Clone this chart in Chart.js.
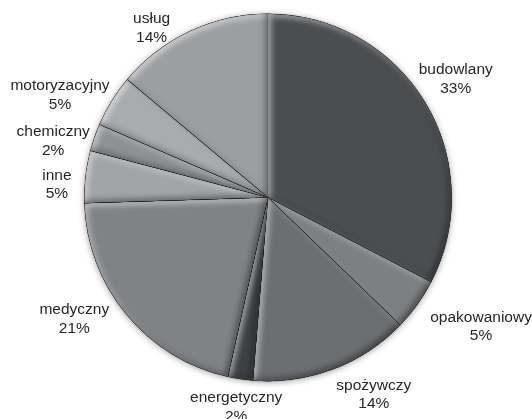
<!DOCTYPE html>
<html>
<head>
<meta charset="utf-8">
<script src="https://cdn.jsdelivr.net/npm/chart.js@4.4.1/dist/chart.umd.min.js"></script>
<style>
  html, body { margin: 0; padding: 0; background: #ffffff; }
  #wrap { width: 532px; height: 419px; position: relative; }
</style>
</head>
<body>
<div id="wrap"><canvas id="c" width="532" height="419"></canvas></div>
<script>
const categories = ['budowlany', 'opakowaniowy', 'spożywczy', 'energetyczny', 'medyczny', 'inne', 'chemiczny', 'motoryzacyjny', 'usług'];
const shares = [32.6, 4.6, 14.1, 2.2, 21.0, 4.6, 2.4, 4.6, 13.9];
const sliceColors = ['#4b4e51', '#7d8083', '#6c6f72', '#3e4144', '#808386', '#a2a5a8', '#8e9194', '#a9acaf', '#9c9fa2'];

const FONT = '15.5px "Liberation Sans", Arial, sans-serif';
const LINE_H = 18.5;

function arcPath(ctx, a) {
  ctx.beginPath();
  ctx.moveTo(a.x, a.y);
  ctx.arc(a.x, a.y, a.outerRadius, a.startAngle, a.endAngle);
  ctx.closePath();
}

const bevelPlugin = {
  id: 'bevel',
  beforeDatasetsDraw(chart) {
    const meta = chart.getDatasetMeta(0);
    if (!meta.data.length) return;
    const a = meta.data[0].getProps(['x', 'y', 'outerRadius'], true);
    const ctx = chart.ctx;
    ctx.save();
    ctx.shadowColor = 'rgba(0,0,0,0.45)';
    ctx.shadowBlur = 7;
    ctx.shadowOffsetX = 0;
    ctx.shadowOffsetY = 1;
    ctx.fillStyle = '#777';
    ctx.beginPath();
    ctx.arc(a.x, a.y, a.outerRadius - 0.5, 0, Math.PI * 2);
    ctx.fill();
    ctx.restore();
  },
  afterDatasetsDraw(chart) {
    const meta = chart.getDatasetMeta(0);
    const ctx = chart.ctx;
    meta.data.forEach((el) => {
      const a = el.getProps(['x', 'y', 'startAngle', 'endAngle', 'outerRadius'], true);
      const passes = [
        { color: 'rgba(255,255,255,0.6)', dx: 2.5, dy: 2.5, blur: 6 },
        { color: 'rgba(0,0,0,0.45)', dx: -2.5, dy: -2.5, blur: 6 }
      ];
      passes.forEach((p) => {
        ctx.save();
        arcPath(ctx, a);
        ctx.clip();
        ctx.beginPath();
        ctx.rect(-2000, -2000, 5000, 5000);
        ctx.moveTo(a.x, a.y);
        ctx.arc(a.x, a.y, a.outerRadius, a.startAngle, a.endAngle);
        ctx.closePath();
        ctx.shadowColor = p.color;
        ctx.shadowBlur = p.blur;
        ctx.shadowOffsetX = p.dx;
        ctx.shadowOffsetY = p.dy;
        ctx.fillStyle = '#000';
        ctx.fill('evenodd');
        ctx.restore();
      });
    });
  }
};

const labelPlugin = {
  id: 'outLabels',
  afterDraw(chart, args, opts) {
    const meta = chart.getDatasetMeta(0);
    const data = chart.data.datasets[0].data;
    const total = data.reduce((s, v) => s + v, 0);
    const nudge = opts.nudge || [];
    const ctx = chart.ctx;
    ctx.save();
    ctx.font = FONT;
    ctx.fillStyle = '#262626';
    ctx.textAlign = 'center';
    ctx.textBaseline = 'middle';
    meta.data.forEach((el, i) => {
      const a = el.getProps(['x', 'y', 'startAngle', 'endAngle', 'outerRadius'], true);
      const mid = (a.startAngle + a.endAngle) / 2;
      const l1 = chart.data.labels[i];
      const l2 = Math.round(data[i] / total * 100) + '%';
      const halfW = Math.max(ctx.measureText(l1).width, ctx.measureText(l2).width) / 2;
      const halfH = LINE_H;
      const cx = Math.cos(mid), cy = Math.sin(mid);
      const d = a.outerRadius + 3 + Math.abs(cx) * halfW + Math.abs(cy) * halfH;
      const n = nudge[i] || [0, 0];
      const px = a.x + d * cx + n[0], py = a.y + d * cy + n[1];
      ctx.fillText(l1, px, py - LINE_H / 2);
      ctx.fillText(l2, px, py + LINE_H / 2);
    });
    ctx.restore();
  }
};

new Chart(document.getElementById('c'), {
  type: 'pie',
  data: {
    labels: categories,
    datasets: [{
      data: shares,
      backgroundColor: sliceColors,
      borderColor: 'rgba(60,62,65,0.6)',
      borderWidth: 0.6
    }]
  },
  options: {
    responsive: false,
    animation: false,
    rotation: 0,
    layout: { padding: { left: 84, right: 80, top: 13, bottom: 37 } },
    plugins: {
      legend: { display: false },
      tooltip: { enabled: false },
      outLabels: {
        nudge: [[-7, 0], [19, -10], [29, -6], [0, 0], [-20, -22], [-9, 10], [0, 18], [-5, 23], [-27, 22]]
      }
    }
  },
  plugins: [bevelPlugin, labelPlugin]
});
</script>
</body>
</html>
